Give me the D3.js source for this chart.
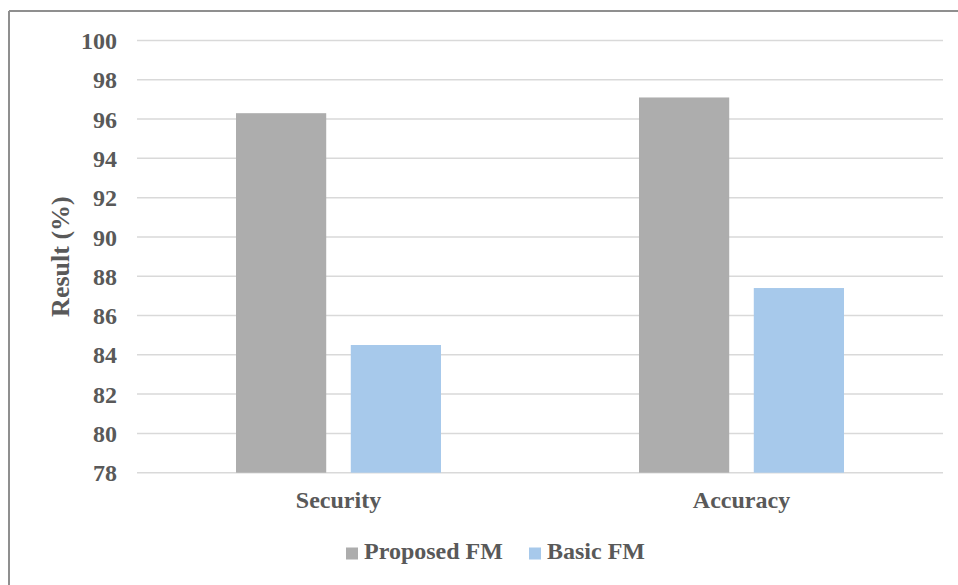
<!DOCTYPE html>
<html>
<head>
<meta charset="utf-8">
<script src="https://cdn.jsdelivr.net/npm/d3@7"></script>
<style>
  html, body { margin: 0; padding: 0; background: #fff; }
  svg { display: block; }
  text { font-family: "Liberation Serif", "Times New Roman", serif; font-weight: bold; fill: #595959; }
</style>
</head>
<body>
<svg id="chart" width="958" height="585"></svg>
<script>
// Chart data
const categories = ["Security", "Accuracy"];
const seriesNames = ["Proposed FM", "Basic FM"];
const proposedFM = [96.3, 97.1];
const basicFM = [84.5, 87.4];
const yTicks = [78, 80, 82, 84, 86, 88, 90, 92, 94, 96, 98, 100];
const seriesColors = ["#adadad", "#a7c9eb"];

const svg = d3.select("#chart");
const W = 958, H = 585;

// Frame around the chart area
svg.append("line").attr("x1", 9).attr("y1", 11).attr("x2", W).attr("y2", 11)
  .attr("stroke", "#8f8f8f").attr("stroke-width", 2);
svg.append("line").attr("x1", 9).attr("y1", 11).attr("x2", 9).attr("y2", H)
  .attr("stroke", "#8f8f8f").attr("stroke-width", 2);

const plot = { left: 137, right: 943, top: 40.5, bottom: 472.7 };

const y = d3.scaleLinear().domain([78, 100]).range([plot.bottom, plot.top]);
const x0 = d3.scaleBand().domain(categories).range([plot.left, plot.right]).paddingInner(0).paddingOuter(0);
const groupWidth = 205;
const x1 = d3.scaleBand().domain(seriesNames).range([0, groupWidth]).paddingInner(0.214);

// Horizontal gridlines
svg.append("g").selectAll("line").data(yTicks).join("line")
  .attr("x1", plot.left).attr("x2", plot.right)
  .attr("y1", d => y(d)).attr("y2", d => y(d))
  .attr("stroke", "#d9d9d9").attr("stroke-width", 1.5);

// Y axis tick labels
const yAxis = d3.axisLeft(y).tickValues(yTicks).tickSize(0).tickPadding(0);
const yg = svg.append("g").attr("transform", `translate(${plot.left - 20},0)`).call(yAxis);
yg.select(".domain").remove();
yg.selectAll("text")
  .attr("font-family", "Liberation Serif, Times New Roman, serif")
  .attr("font-weight", "bold").attr("font-size", 24).attr("fill", "#595959")
  .attr("dy", "0.34em");

// Y axis title
svg.append("text")
  .attr("transform", `translate(69,${(plot.top + plot.bottom) / 2}) rotate(-90)`)
  .attr("text-anchor", "middle").attr("font-size", 26)
  .text("Result (%)");

// Bars
const rows = categories.map((c, i) => ({ cat: c, values: [proposedFM[i], basicFM[i]] }));
const groups = svg.append("g").selectAll("g").data(rows).join("g")
  .attr("transform", d => `translate(${x0(d.cat) + (x0.bandwidth() - groupWidth) / 2},0)`);
groups.selectAll("rect").data(d => d.values.map((v, j) => ({ s: seriesNames[j], v, j })))
  .join("rect")
  .attr("x", d => x1(d.s)).attr("width", x1.bandwidth())
  .attr("y", d => y(d.v)).attr("height", d => y(78) - y(d.v))
  .attr("fill", d => seriesColors[d.j]);

// Category labels
const xAxis = d3.axisBottom(x0).tickSize(0).tickPadding(0);
const xg = svg.append("g").attr("transform", `translate(0,${plot.bottom})`).call(xAxis);
xg.select(".domain").remove();
xg.selectAll("text")
  .attr("font-family", "Liberation Serif, Times New Roman, serif")
  .attr("font-weight", "bold").attr("font-size", 24).attr("fill", "#595959")
  .attr("dy", 0).attr("y", 35);

// Legend
const legendItems = [
  { name: seriesNames[0], color: seriesColors[0], x: 346 },
  { name: seriesNames[1], color: seriesColors[1], x: 529 }
];
const lg = svg.append("g").selectAll("g").data(legendItems).join("g")
  .attr("transform", d => `translate(${d.x},0)`);
lg.append("rect").attr("x", 0).attr("y", 547.5).attr("width", 12).attr("height", 12)
  .attr("fill", d => d.color);
lg.append("text").attr("x", 18).attr("y", 559).attr("font-size", 24)
  .text(d => d.name);
</script>
</body>
</html>
